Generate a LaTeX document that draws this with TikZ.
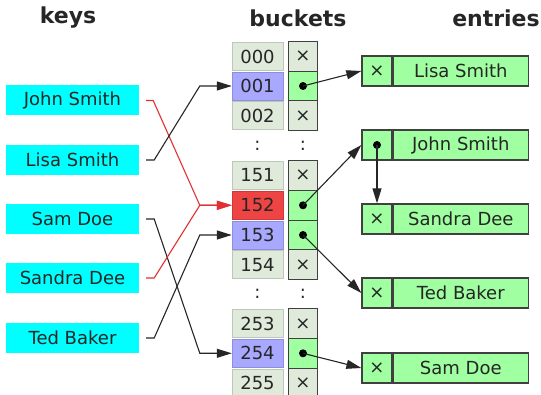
\documentclass[tikz,border=0pt]{standalone}
\usepackage{fontspec}
\setmainfont{DejaVu Sans}
\usetikzlibrary{arrows.meta}

\definecolor{keycyan}{HTML}{00FFFF}
\definecolor{cellgray}{HTML}{DFEADB}
\definecolor{celluse}{HTML}{A8A8FF}
\definecolor{cellhit}{HTML}{EE4444}
\definecolor{entgreen}{HTML}{A0FFA0}
\definecolor{hitred}{HTML}{E03030}

\begin{document}
\begin{tikzpicture}[x=1pt,y=-1pt,
  font=\fontsize{18}{20}\selectfont,
  text=black!85,
  hd/.style={font=\fontsize{22}{24}\selectfont\bfseries},
  key/.style={fill=keycyan,minimum width=133pt,minimum height=30pt,inner sep=0pt},
  num/.style={fill=#1,draw=#1!85!black,line width=0.4pt,minimum width=51pt,minimum height=28pt,inner sep=0pt},
  ptr/.style={fill=#1,draw=black!75,line width=1.2pt,minimum width=29pt,minimum height=29.7pt,inner sep=0pt},
  ent/.style={fill=entgreen,draw=black!75,line width=1.3pt,minimum height=30pt,inner sep=0pt},
  >={Triangle[length=15pt,width=9pt]},
  link/.style={->,line width=1.1pt,draw=black!85},
  hit/.style={link,draw=hitred}
]
\useasboundingbox (0,0) rectangle (541,395);

\node[hd] (hkeys) at (68,18) {keys};
\node[hd] (hbuckets) at (298,18) {buckets};
\node[hd] (hentries) at (496,18) {entries};

% keys
\node[key] (john) at (72.5,100.5) {John Smith};
\node[key] (lisa) at (72.5,160) {Lisa Smith};
\node[key] (sam) at (72.5,219) {Sam Doe};
\node[key] (sandra) at (72.5,278) {Sandra Dee};
\node[key] (ted) at (72.5,338) {Ted Baker};

% bucket array: index cell + pointer cell
\foreach \n/\y/\c/\f/\t in {
  000/56.5/cellgray/cellgray/×, 001/86/celluse/entgreen/{}, 002/115.7/cellgray/cellgray/×,
  151/175.5/cellgray/cellgray/×, 152/205.3/cellhit/entgreen/{}, 153/235/celluse/entgreen/{},
  154/264.7/cellgray/cellgray/×,
  253/323.7/cellgray/cellgray/×, 254/353.3/celluse/entgreen/{}, 255/383/cellgray/cellgray/×}
{
  \node[num=\c] (b\n) at (257.5,\y) {\n};
  \node[ptr=\f] (p\n) at (303,\y) {\t};
}
\foreach \n in {001,152,153,254}
  \fill (p\n.center) circle (4pt);

\node (gapa) at (257.5,146) {:};
\node (gapb) at (303,146) {:};
\node (gapc) at (257.5,294) {:};
\node (gapd) at (303,294) {:};

% entries: next pointer + key
\foreach \k/\y/\t/\name in {lisa/71/×/Lisa Smith, john/145/{}/John Smith,
  sandra/219/×/Sandra Dee, ted/293/×/Ted Baker, sam/368/×/Sam Doe}
{
  \node[ent,minimum width=30pt] (e\k) at (377,\y) {\t};
  \node[ent,minimum width=135pt,anchor=west] (n\k) at (e\k.east) {\name};
}
\fill (ejohn.center) circle (4pt);

% hashing keys into buckets
\draw[hit] ([xshift=7pt]john.east) -- ++(7,0) -- ([xshift=-32pt]b152.west) -- (b152.west);
\draw[link] ([xshift=7pt]lisa.east) -- ++(8,0) -- ([xshift=-32pt]b001.west) -- (b001.west);
\draw[link] ([xshift=7pt]sam.east) -- ++(8,0) -- ([xshift=-32pt]b254.west) -- (b254.west);
\draw[hit] ([xshift=7pt]sandra.east) -- ++(8,0) -- ([xshift=-32pt]b152.west) -- (b152.west);
\draw[link] ([xshift=7pt]ted.east) -- ++(8,0) -- ([xshift=-32pt]b153.west) -- (b153.west);

% bucket pointers into entries
\draw[link] (p001.center) -- (elisa.west);
\draw[link] (p152.center) -- (ejohn.west);
\draw[link] (p153.center) -- (eted.west);
\draw[link] (p254.center) -- (esam.west);
\draw[link] (ejohn.center) -- (esandra.north);
\end{tikzpicture}
\end{document}
